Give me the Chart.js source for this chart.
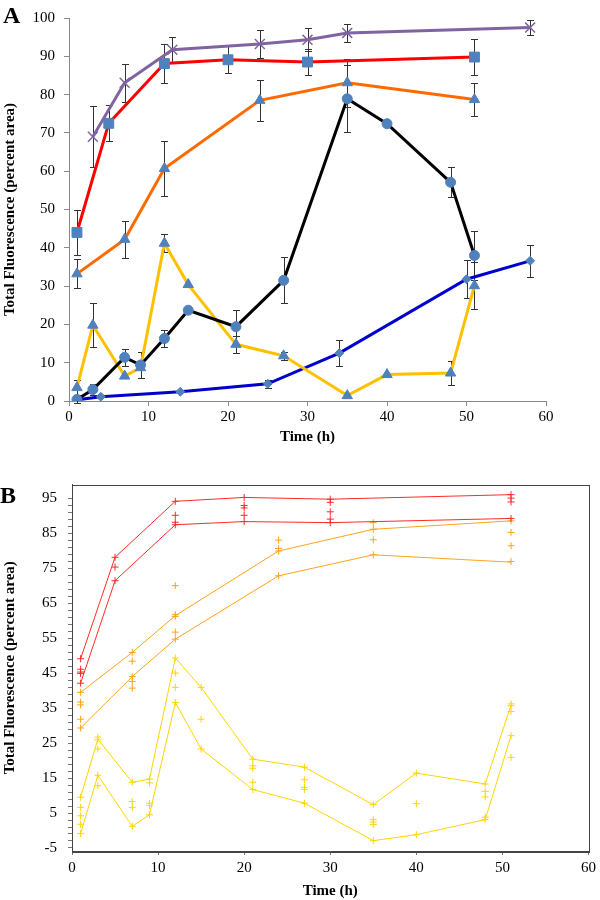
<!DOCTYPE html>
<html>
<head>
<meta charset="utf-8">
<script src="https://cdn.jsdelivr.net/npm/chart.js@4.4.0/dist/chart.umd.min.js"></script>
<style>
body { margin: 0; background: #fff; width: 600px; height: 900px; position: relative; overflow: hidden; }
.panel { position: absolute; left: 0; }
.panel canvas { display: block; }
.letter { position: absolute; z-index: 2; font: bold 24px "Liberation Serif", "Times New Roman", serif; line-height: 24px; color: #000; }
</style>
</head>
<body>
<div class="panel" style="top:0"><canvas id="chartA" width="600" height="448"></canvas></div>
<div class="panel" style="top:448px"><canvas id="chartB" width="600" height="452"></canvas></div>
<div class="letter" style="left:3px;top:3px">A</div>
<div class="letter" style="left:0;top:483px">B</div>
<script>
var serif = '"Liberation Serif", "Times New Roman", serif';
var markerBlue = '#4F81BD';

// ---- panel A: means with error bars ----
var timePurple = [3, 7, 13, 24, 30, 35, 58];
var valPurple = [69, 83.1, 91.7, 93.2, 94.3, 96.1, 97.5];
var errPurple = [8, 5, 3.4, 3.7, 3, 2.3, 2];

var timeRed = [1, 5, 12, 20, 30, 51];
var valRed = [44, 72.5, 88.1, 89.1, 88.5, 89.8];
var errRed = [5.8, 4.7, 5, 3.5, 3.5, 4.8];

var timeOrange = [1, 7, 12, 24, 35, 51];
var valOrange = [33.2, 42.2, 60.7, 78.5, 83.1, 78.7];
var errOrange = [3.8, 4.9, 7.2, 5.4, 6.3, 4.3];

var timeBlack = [1, 3, 7, 9, 12, 15, 21, 27, 35, 40, 48, 51];
var valBlack = [0.4, 3.0, 11.4, 9.4, 16.3, 23.7, 19.4, 31.5, 78.9, 72.4, 57.1, 38.0];
var errBlack = [1, 1.5, 2.3, 3.4, 2.3, 0, 4.4, 6, 8.7, 0, 3.9, 6.3];

var timeYellow = [1, 3, 7, 9, 12, 15, 21, 27, 35, 40, 48, 51];
var valYellow = [3.5, 19.8, 6.5, 8.7, 41.2, 30.4, 14.8, 11.8, 1.4, 6.9, 7.3, 30.1];
var errYellow = [2, 5.8, 0, 0, 2.3, 0, 2.3, 1, 0, 0, 3.1, 6.2];

var timeBlue = [1, 4, 14, 25, 34, 50, 58];
var valBlue = [0.3, 1.1, 2.4, 4.5, 12.5, 31.8, 36.6];
var errBlue = [0, 0, 0, 1, 3.4, 5, 4.1];

// ---- panel B: replicate bands ----
var bRedTime = [1, 5, 12, 20, 30, 51];
var bRedUpper = [49.1, 78.1, 94.1, 95.2, 94.7, 96.0];
var bRedLower = [42.1, 71.4, 87.4, 88.3, 88.0, 89.2];
var bRedRepTime = [1, 1, 1, 1, 1, 5, 5, 5, 12, 12, 12, 12, 20, 20, 20, 20, 20, 30, 30, 30, 30, 30, 51, 51, 51, 51];
var bRedRepVal = [49.1, 46.1, 45.3, 44.9, 42.1, 78.1, 75.3, 71.4, 94.1, 90.1, 88.1, 87.4, 95.2, 92.9, 92.2, 90.1, 88.3, 94.7, 93.8, 91.1, 89.0, 88.0, 96.0, 95.0, 93.9, 89.2];

var bOrangeTime = [1, 7, 12, 24, 35, 51];
var bOrangeUpper = [39.5, 50.9, 61.4, 79.9, 86.1, 88.5];
var bOrangeLower = [29.3, 44.0, 54.7, 72.8, 78.8, 76.7];
var bOrangeRepTime = [1, 1, 1, 1, 1, 7, 7, 7, 7, 7, 12, 12, 12, 12, 12, 24, 24, 24, 24, 35, 35, 35, 35, 51, 51, 51, 51];
var bOrangeRepVal = [39.5, 36.7, 35.9, 31.8, 29.3, 50.9, 48.4, 44.0, 42.6, 40.7, 70.0, 61.7, 61.2, 56.7, 54.7, 83.0, 80.6, 79.9, 72.8, 88.0, 86.1, 83.1, 78.8, 88.5, 85.2, 81.4, 76.9];

var bYellowTime = [1, 3, 7, 9, 12, 15, 21, 27, 35, 40, 48, 51];
var bYellowUpper = [9.5, 26.1, 13.8, 14.7, 49.3, 40.9, 20.4, 18.1, 7.4, 16.4, 13.3, 35.9];
var bYellowLower = [-0.9, 15.8, 1.2, 4.5, 36.6, 23.3, 11.7, 7.8, -2.9, -1.2, 3.1, 27.1];
var bYellowRepTime = [1, 1, 1, 1, 1, 3, 3, 3, 3, 3, 7, 7, 7, 7, 9, 9, 9, 9, 9, 12, 12, 12, 12, 15, 15, 15,
    21, 21, 21, 21, 21, 27, 27, 27, 27, 27, 35, 35, 35, 35, 35, 40, 40, 40, 48, 48, 48, 48, 48, 51, 51, 51, 51, 51];
var bYellowRepVal = [9.5, 6.6, 4.2, 1.8, -0.9, 26.7, 25.9, 23.3, 15.8, 12.8, 13.8, 8.3, 6.6, 1.2, 14.7, 13.6, 7.8, 7.1, 4.5,
    49.3, 45.0, 40.9, 36.6, 40.9, 31.8, 23.3, 20.4, 18.5, 17.8, 13.8, 11.7, 18.1, 14.5, 12.3, 11.7, 7.8,
    7.4, 3.1, 2.4, 1.7, -2.9, 16.4, 7.7, -1.2, 13.3, 11.2, 9.6, 3.8, 3.1, 36.2, 35.7, 34.0, 27.1, 20.9];

var xTicks = [0, 10, 20, 30, 40, 50, 60];
var bYLabels = [-5, 5, 15, 25, 35, 45, 55, 65, 75, 85, 95];

function pts(xs, ys) {
    return xs.map(function (x, i) { return { x: x, y: ys[i] }; });
}

// error bars drawn through the chart's own scales
var errorBars = {
    id: 'errorBars',
    beforeDatasetsDraw: function (chart) {
        var ctx = chart.ctx, sx = chart.scales.x, sy = chart.scales.y;
        ctx.save();
        ctx.strokeStyle = '#333';
        ctx.lineWidth = 1;
        chart.data.datasets.forEach(function (ds) {
            if (!ds.errors) return;
            ds.data.forEach(function (p, i) {
                var e = ds.errors[i];
                if (!e) return;
                var px = Math.round(sx.getPixelForValue(p.x)) + 0.5;
                var top = Math.round(sy.getPixelForValue(p.y + e)) + 0.5;
                var bot = Math.round(sy.getPixelForValue(p.y - e)) + 0.5;
                ctx.beginPath();
                ctx.moveTo(px, top); ctx.lineTo(px, bot);
                ctx.moveTo(px - 3.5, top); ctx.lineTo(px + 3.5, top);
                ctx.moveTo(px - 3.5, bot); ctx.lineTo(px + 3.5, bot);
                ctx.stroke();
            });
        });
        ctx.restore();
    }
};

var boxBorder = {
    id: 'boxBorder',
    afterDraw: function (chart) {
        var a = chart.chartArea, ctx = chart.ctx;
        ctx.save();
        ctx.strokeStyle = '#444';
        ctx.lineWidth = 1;
        ctx.strokeRect(Math.round(a.left) + 0.5, Math.round(a.top) + 0.5, Math.round(a.right - a.left), Math.round(a.bottom - a.top));
        ctx.restore();
    }
};

function meanSet(xs, ys, errs, color, style, radius) {
    return {
        data: pts(xs, ys), errors: errs, showLine: true, tension: 0,
        borderColor: color, borderWidth: 3,
        pointStyle: style, pointRadius: radius,
        pointBackgroundColor: markerBlue, pointBorderColor: markerBlue, pointBorderWidth: 1
    };
}

var purpleSet = meanSet(timePurple, valPurple, errPurple, '#8064A2', 'crossRot', 7);
purpleSet.pointBorderColor = '#8064A2';
purpleSet.pointBorderWidth = 1.5;

var chartA = new Chart(document.getElementById('chartA'), {
    type: 'scatter',
    data: {
        datasets: [
            purpleSet,
            meanSet(timeRed, valRed, errRed, '#FF0000', 'rect', 7),
            meanSet(timeOrange, valOrange, errOrange, '#FF6A00', 'triangle', 6),
            meanSet(timeBlack, valBlack, errBlack, '#000000', 'circle', 5),
            meanSet(timeYellow, valYellow, errYellow, '#FFC000', 'triangle', 6),
            meanSet(timeBlue, valBlue, errBlue, '#0000CC', 'rectRot', 4.5)
        ]
    },
    options: {
        responsive: false, animation: false, devicePixelRatio: 1,
        layout: { padding: { left: 0, right: 54, top: 12, bottom: 0 } },
        plugins: { legend: { display: false }, tooltip: { enabled: false } },
        scales: {
            x: {
                type: 'linear', min: 0, max: 60,
                afterBuildTicks: function (s) { s.ticks = xTicks.map(function (v) { return { value: v }; }); },
                ticks: { color: '#000', font: { family: serif, size: 15 }, padding: 2 },
                grid: { drawOnChartArea: false, tickLength: 5, tickColor: '#888' },
                border: { color: '#888' },
                title: { display: true, text: 'Time (h)', color: '#000', font: { family: serif, size: 15, weight: 'bold' }, padding: { top: 0, bottom: 2 } },
                afterFit: function (s) { s.height = 47; }
            },
            y: {
                type: 'linear', min: 0, max: 100,
                ticks: { stepSize: 10, color: '#000', font: { family: serif, size: 15 }, padding: 9 },
                grid: { drawOnChartArea: false, tickLength: 5, tickColor: '#888' },
                border: { color: '#888' },
                title: { display: true, text: 'Total Fluorescence (percent area)', color: '#000', font: { family: serif, size: 15, weight: 'bold' }, padding: { top: 1, bottom: 0 } },
                afterFit: function (s) { s.width = 69; }
            }
        }
    },
    plugins: [errorBars]
});

function bandLine(xs, ys, color) {
    return { data: pts(xs, ys), showLine: true, tension: 0, borderColor: color, borderWidth: 1, pointRadius: 0 };
}
function repSet(xs, ys, color) {
    return { data: pts(xs, ys), showLine: false, pointStyle: 'cross', pointRadius: 3.5, pointBorderColor: color, pointBorderWidth: 1 };
}

var bRed = '#FF2A2A', bOrange = '#FFA31A', bYellow = '#FFD500';

var chartB = new Chart(document.getElementById('chartB'), {
    type: 'scatter',
    data: {
        datasets: [
            bandLine(bRedTime, bRedUpper, bRed),
            bandLine(bRedTime, bRedLower, bRed),
            repSet(bRedRepTime, bRedRepVal, bRed),
            bandLine(bOrangeTime, bOrangeUpper, bOrange),
            bandLine(bOrangeTime, bOrangeLower, bOrange),
            repSet(bOrangeRepTime, bOrangeRepVal, bOrange),
            bandLine(bYellowTime, bYellowUpper, bYellow),
            bandLine(bYellowTime, bYellowLower, bYellow),
            repSet(bYellowRepTime, bYellowRepVal, bYellow)
        ]
    },
    options: {
        responsive: false, animation: false, devicePixelRatio: 1,
        layout: { padding: { left: 0, right: 8, top: 36.5, bottom: 0 } },
        plugins: { legend: { display: false }, tooltip: { enabled: false } },
        scales: {
            x: {
                type: 'linear', min: 0, max: 60,
                afterBuildTicks: function (s) { s.ticks = xTicks.map(function (v) { return { value: v }; }); },
                ticks: { color: '#000', font: { family: serif, size: 15 }, padding: 4 },
                grid: { drawOnChartArea: false, tickLength: 4, tickColor: '#777' },
                border: { color: '#444' },
                title: { display: true, text: 'Time (h)', color: '#000', font: { family: serif, size: 15, weight: 'bold' }, padding: { top: 0, bottom: 0 } },
                afterFit: function (s) { s.height = 49; }
            },
            y: {
                type: 'linear', min: -5.86, max: 98.9,
                afterBuildTicks: function (s) {
                    var t = [];
                    for (var v = -5; v <= 95; v += 2) t.push({ value: v });
                    s.ticks = t;
                },
                ticks: {
                    autoSkip: false, color: '#000', font: { family: serif, size: 15 }, padding: 11,
                    callback: function (v) { return bYLabels.indexOf(v) >= 0 ? String(v) : ''; }
                },
                grid: { drawOnChartArea: false, tickLength: 4, tickColor: '#777' },
                border: { color: '#444' },
                title: { display: true, text: 'Total Fluorescence (percent area)', color: '#000', font: { family: serif, size: 15, weight: 'bold' }, padding: { top: 1, bottom: 0 } },
                afterFit: function (s) { s.width = 72; }
            }
        }
    },
    plugins: [boxBorder]
});
</script>
</body>
</html>
